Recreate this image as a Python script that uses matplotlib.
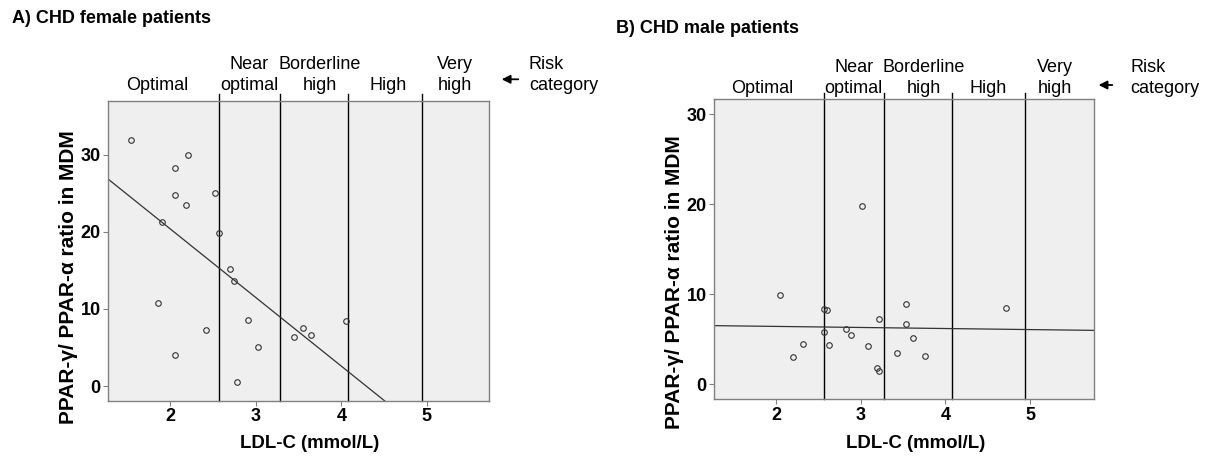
import numpy as np
import matplotlib
matplotlib.use("Agg")
import matplotlib.pyplot as plt
import matplotlib.transforms as mtransforms

plt.rcParams['font.family'] = ['Liberation Sans', 'DejaVu Sans']

# ---------------- data ----------------
female_ldl = [1.54, 2.21, 2.06, 2.06, 2.52, 2.19, 1.91, 2.57, 2.70, 2.75,
              1.86, 2.91, 4.06, 2.42, 3.55, 3.45, 3.65, 3.03, 2.06, 2.78]
female_ratio = [31.9, 30.0, 28.3, 24.7, 25.0, 23.4, 21.2, 19.8, 15.2, 13.6,
                10.75, 8.6, 8.4, 7.3, 7.5, 6.4, 6.6, 5.0, 4.0, 0.5]

male_ldl = [3.01, 2.05, 3.53, 4.72, 2.57, 2.60, 3.22, 3.53, 2.83, 2.57,
            2.88, 3.62, 2.32, 2.62, 3.09, 3.43, 3.76, 2.20, 3.19, 3.22]
male_ratio = [19.8, 9.9, 8.9, 8.5, 8.37, 8.3, 7.3, 6.67, 6.1, 5.78,
              5.5, 5.14, 4.44, 4.33, 4.22, 3.44, 3.18, 3.07, 1.78, 1.52]

risk_cutoffs = [2.57, 3.28, 4.08, 4.94]
risk_labels = [("", "Optimal"), ("Near", "optimal"), ("Borderline", "high"),
               ("", "High"), ("Very", "high")]
x_ticks = [2, 3, 4, 5]
y_ticks = [0, 10, 20, 30]
panel_titles = ["A) CHD female patients", "B) CHD male patients"]
x_label = "LDL-C (mmol/L)"
y_label = "PPAR-\u03b3/ PPAR-\u03b1 ratio in MDM"

# ---------------- layout ----------------
W, H = 1215, 457
fig = plt.figure(figsize=(W / 100, H / 100), dpi=100)


def fx(px):
    return px / W


def fy(py):
    return 1 - py / H


panels = [
    dict(x=female_ldl, y=female_ratio, rect=[108.3, 100.5, 489.0, 400.7],
         xlim=(1.277, 5.726), ylim=(-1.9, 37.0), title=panel_titles[0],
         title_pos=(11.7, 22.7),
         label_centers=[157.7, 249.0, 319.5, 388.0, 454.5],
         base1=69.3, base2=89.8, arrow=(518.3, 501.7, 79.3), risk_x=529.0,
         ylab=(68.3, 277.5), xlab=(309.7, 448.0)),
    dict(x=male_ldl, y=male_ratio, rect=[714.3, 99.2, 1094.3, 399.0],
         xlim=(1.270, 5.758), ylim=(-1.63, 31.68), title=panel_titles[1],
         title_pos=(615.6, 33.3),
         label_centers=[762.7, 853.8, 923.7, 988.0, 1054.6],
         base1=71.5, base2=92.8, arrow=(1112.3, 1098.6, 85.0), risk_x=1130.0,
         ylab=(675.0, 282.5), xlab=(915.8, 448.0)),
]

for p in panels:
    l, t, r, b = p['rect']
    ax = fig.add_axes([fx(l), fy(b), (r - l) / W, (b - t) / H])
    ax.set_facecolor('#efefef')
    for s in ax.spines.values():
        s.set_color('#808080')
        s.set_linewidth(1.0)
    ax.set_xlim(*p['xlim'])
    ax.set_ylim(*p['ylim'])
    ax.set_xticks(x_ticks)
    ax.set_yticks(y_ticks)
    ax.tick_params(axis='both', labelsize=13, colors='#808080',
                   labelcolor='black', length=3.5, width=0.8, pad=2)
    for lab in ax.get_xticklabels() + ax.get_yticklabels():
        lab.set_fontweight('bold')

    # risk category boundaries (extend a bit above the frame)
    trans = mtransforms.blended_transform_factory(ax.transData, ax.transAxes)
    for c in risk_cutoffs:
        ax.plot([c, c], [0, 1.02], color='black', lw=1.0, transform=trans,
                clip_on=False, zorder=2)

    # scatter
    ax.plot(p['x'], p['y'], linestyle='none', marker='o', ms=4.0,
            mfc='none', mec='#333333', mew=0.8, zorder=3)

    # linear regression fit
    slope, intercept = np.polyfit(p['x'], p['y'], 1)
    xs = np.array(p['xlim'])
    ax.plot(xs, intercept + slope * xs, color='#333333', lw=0.9, zorder=2)

    # header texts
    for (l1, l2), cx in zip(risk_labels, p['label_centers']):
        if l1:
            fig.text(fx(cx), fy(p['base1']), l1, ha='center', va='baseline',
                     fontsize=13)
        fig.text(fx(cx), fy(p['base2']), l2, ha='center', va='baseline',
                 fontsize=13)
    fig.text(fx(p['risk_x']), fy(p['base1']), "Risk", ha='left',
             va='baseline', fontsize=13)
    fig.text(fx(p['risk_x']), fy(p['base2']), "category", ha='left',
             va='baseline', fontsize=13)
    a0, a1, ay = p['arrow']
    fig.add_artist(matplotlib.patches.FancyArrowPatch(
        (fx(a0), fy(ay)), (fx(a1), fy(ay)), transform=fig.transFigure,
        arrowstyle='-|>,head_length=5,head_width=2.5', color='black', lw=1.3,
        shrinkA=0, shrinkB=0))

    # titles and axis labels
    fig.text(fx(p['title_pos'][0]), fy(p['title_pos'][1]), p['title'],
             ha='left', va='baseline', fontsize=13, fontweight='bold')
    fig.text(fx(p['xlab'][0]), fy(p['xlab'][1]), x_label, ha='center',
             va='baseline', fontsize=13.4, fontweight='bold')
    fig.text(fx(p['ylab'][0]), fy(p['ylab'][1]), y_label, ha='center',
             va='center', rotation=90, fontsize=15, fontweight='bold')

fig.savefig("out.png", dpi=100)
